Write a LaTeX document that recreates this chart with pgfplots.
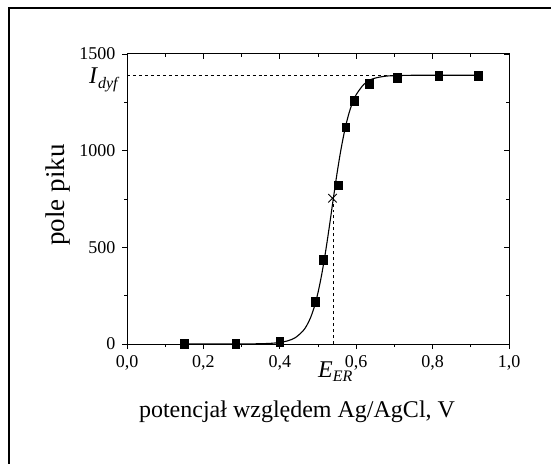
\documentclass[border=0pt]{standalone}
\usepackage{pgfplots}
\pgfplotsset{compat=1.18}
\usepackage{fontspec}
\setmainfont{Liberation Serif}
\begin{document}
\begin{tikzpicture}[x=1bp,y=1bp]
\useasboundingbox (0,0) rectangle (551,-464);
\draw[line width=2bp] (9,-480) -- (9,-8) -- (570,-8);
\begin{axis}[at={(127bp,-344bp)}, anchor=south west, scale only axis,
  width=382bp, height=290bp,
  xmin=0, xmax=1, ymin=0, ymax=1500,
  xtick={0,0.2,0.4,0.6,0.8,1.0}, minor x tick num=1,
  ytick={0,500,1000,1500}, minor y tick num=1,
  tick align=outside, xtick pos=bottom, ytick pos=left,
  major tick length=5bp, minor tick length=3bp,
  axis line style={line width=1bp}, every tick/.style={black, line width=0.9bp},
  xticklabel style={font=\fontsize{18bp}{21bp}\selectfont, yshift=-3bp,
    /pgf/number format/.cd, fixed, fixed zerofill, precision=1, use comma, assume math mode=true},
  yticklabel style={font=\fontsize{18bp}{21bp}\selectfont, xshift=-3bp,
    /pgf/number format/.cd, fixed, 1000 sep={}, assume math mode=true},
  clip=false,
]
% dashed guide lines
\addplot[black, dashed, line width=0.8bp] coordinates {(0,1390) (0.92,1390)};
\addplot[black, dashed, line width=0.8bp] coordinates {(0.541,0) (0.541,751)};
% fitted curve
\addplot[black, line width=1.1bp, smooth] coordinates {
(0.15,0) (0.25,0) (0.30,0.3) (0.35,1.5) (0.38,4) (0.40,8) (0.42,16) (0.44,32)
(0.46,66) (0.47,94) (0.48,134) (0.49,190) (0.50,266) (0.51,363) (0.52,480)
(0.53,612) (0.54,751) (0.55,885) (0.56,1005) (0.57,1106) (0.58,1186)
(0.59,1247) (0.60,1290) (0.62,1343) (0.64,1369) (0.66,1380) (0.68,1386)
(0.70,1388) (0.75,1390) (0.80,1390) (0.92,1390)};
% data
\addplot[only marks, mark=square*, mark size=3.8bp, black, mark options={yscale=1.15}] coordinates {
(0.15,3) (0.285,3) (0.40,12) (0.492,218) (0.513,435) (0.553,822)
(0.572,1121) (0.594,1260) (0.634,1348) (0.707,1378) (0.816,1388) (0.919,1388)};
% half point
\addplot[only marks, mark=x, mark size=6bp, black, mark options={line width=0.8bp}] coordinates {(0.538,754)};
\end{axis}
\begin{axis}[at={(127bp,-344bp)}, anchor=south west, scale only axis,
  width=382bp, height=290bp,
  xmin=0, xmax=1, ymin=0, ymax=1500,
  xtick={0,0.2,0.4,0.6,0.8,1.0}, minor x tick num=1,
  ytick={0,500,1000,1500}, minor y tick num=1,
  tick align=inside, xtick pos=top, ytick pos=right,
  major tick length=5bp, minor tick length=3bp,
  axis line style={line width=1bp}, every tick/.style={black, line width=0.9bp},
  xticklabels={}, yticklabels={},
]
\end{axis}
\node[font=\fontsize{24bp}{28bp}\selectfont] at (297,-412) {potencjał względem Ag/AgCl, V};
\node[font=\fontsize{27bp}{31bp}\selectfont, rotate=90] at (58,-195) {pole piku};
\node[font=\fontsize{24bp}{28bp}\selectfont, anchor=base west, inner sep=0] at (89,-84) {\textit{I}\raisebox{-0.45ex}{\fontsize{16bp}{18bp}\selectfont\textit{dyf}}};
\node[font=\fontsize{24bp}{28bp}\selectfont, anchor=base west, inner sep=0] at (318,-377) {\textit{E}\raisebox{-0.45ex}{\fontsize{16bp}{18bp}\selectfont\textit{ER}}};
\end{tikzpicture}
\end{document}
